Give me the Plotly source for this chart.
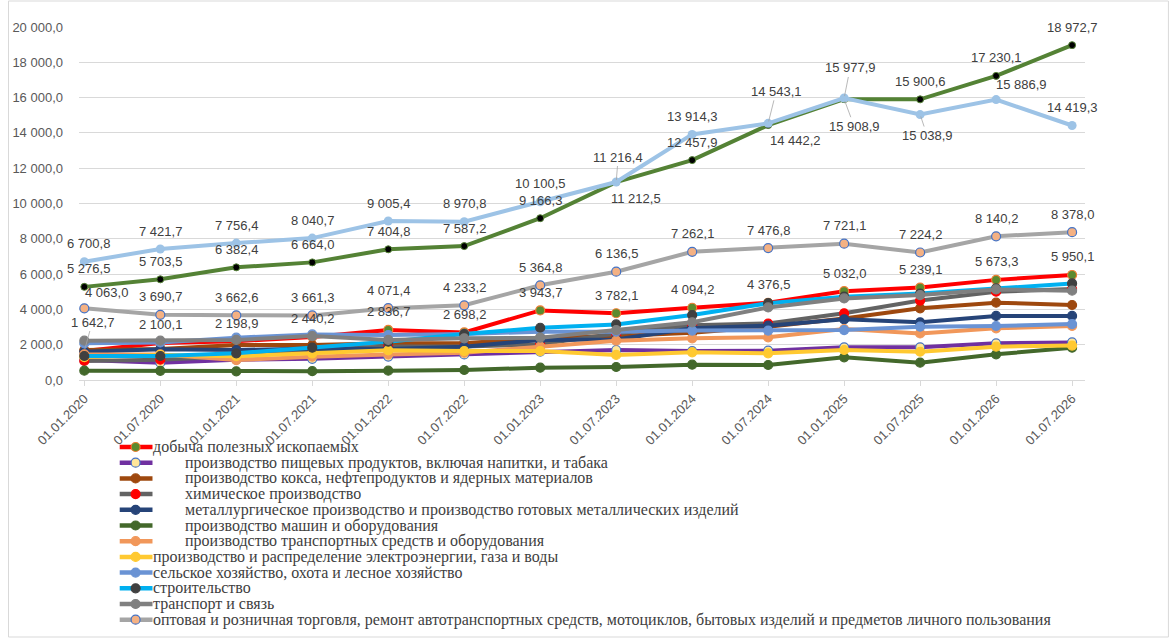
import plotly.graph_objects as go

dates = ["01.01.2020", "01.07.2020", "01.01.2021", "01.07.2021", "01.01.2022",
         "01.07.2022", "01.01.2023", "01.07.2023", "01.01.2024", "01.07.2024",
         "01.01.2025", "01.07.2025", "01.01.2026", "01.07.2026"]

mining = [1642.7, 2100.1, 2198.9, 2440.2, 2836.7, 2698.2, 3943.7, 3782.1, 4094.2, 4376.5, 5032.0, 5239.1, 5673.3, 5950.1]
food = [1130, 980, 1150, 1200, 1330, 1450, 1600, 1700, 1640, 1660, 1850, 1850, 2080, 2130]
coke = [1700, 1750, 1980, 1980, 2080, 2080, 2400, 2490, 2680, 3020, 3490, 4060, 4380, 4250]
chem = [1080, 1150, 1350, 1700, 1900, 1900, 2020, 2640, 3100, 3200, 3780, 4500, 5000, 5150]
metal = [1600, 1740, 1700, 1790, 1760, 1890, 2270, 2300, 2930, 3080, 3440, 3270, 3630, 3630]
machinery = [530, 520, 490, 500, 530, 566, 697, 736, 867, 850, 1284, 981, 1453, 1830]
vehicles = [1450, 1450, 1130, 1320, 1450, 1550, 1890, 2230, 2360, 2420, 2890, 2640, 2930, 3060]
energy = [1300, 1420, 1350, 1500, 1680, 1640, 1640, 1420, 1570, 1510, 1700, 1600, 1890, 1950]
agri = [2080, 2130, 2400, 2580, 2550, 2600, 2740, 2740, 2800, 2800, 2830, 3020, 3060, 3170]
construction = [1360, 1360, 1510, 1830, 2170, 2600, 2960, 3150, 3680, 4350, 4720, 4900, 5190, 5470]
transport = [2230, 2230, 2270, 2490, 2270, 2360, 2400, 2830, 3270, 4110, 4620, 4810, 5130, 5060]
trade = [4063.0, 3690.7, 3662.6, 3661.3, 4071.4, 4233.2, 5364.8, 6136.5, 7262.1, 7476.8, 7721.1, 7224.2, 8140.2, 8378.0]
# two series without a legend entry in the original
top_blue = [6700.8, 7421.7, 7756.4, 8040.7, 9005.4, 8970.8, 10100.5, 11216.4, 13914.3, 14543.1, 15977.9, 15038.9, 15886.9, 14419.3]
top_green = [5276.5, 5703.5, 6382.4, 6664.0, 7404.8, 7587.2, 9166.3, 11212.5, 12457.9, 14442.2, 15908.9, 15900.6, 17230.1, 18972.7]

names = [
    "добыча полезных ископаемых",
    "производство пищевых продуктов, включая напитки, и табака",
    "производство кокса, нефтепродуктов и ядерных материалов",
    "химическое производство",
    "металлургическое производство и производство готовых металлических изделий",
    "производство машин и оборудования",
    "производство транспортных средств и оборудования",
    "производство и распределение электроэнергии, газа и воды",
    "сельское хозяйство, охота и лесное хозяйство",
    "строительство",
    "транспорт и связь",
    "оптовая и розничная торговля, ремонт автотранспортных средств, мотоциклов, бытовых изделий и предметов личного пользования",
]
values = [mining, food, coke, chem, metal, machinery, vehicles, energy, agri, construction, transport, trade]

# line colour, marker fill, marker border, indented legend text
styles = [
    ("#FF0000", "#5B8A2E", "#ED7D31", False),
    ("#7030A0", "#FFE699", "#4472C4", True),
    ("#9E480E", "#9E480E", "#9E480E", True),
    ("#636363", "#FF0000", "#FF0000", True),
    ("#264478", "#264478", "#264478", True),
    ("#43682B", "#43682B", "#43682B", True),
    ("#F1975A", "#F1975A", "#F1975A", True),
    ("#FFC931", "#FFC931", "#FFC931", False),
    ("#6A93D4", "#6A93D4", "#6A93D4", False),
    ("#00B0F0", "#404040", "#404040", False),
    ("#808080", "#808080", "#808080", False),
    ("#A5A5A5", "#F4B183", "#4472C4", False),
]

L, R, T, B = 72, 86, 27, 259
W, H = 1171, 639
PW, PH = W - L - R, H - T - B


def fmt(v):
    return f"{v:,.1f}".replace(",", " ").replace(".", ",")


def px_x(px):
    return (px - L) / PW


def px_y(py):
    return (T + PH - py) / PH


fig = go.Figure()

for name, vals, (lc, mc, mb, _) in zip(names, values, styles):
    fig.add_trace(go.Scatter(
        x=dates, y=vals, name=name, mode="lines+markers",
        line=dict(color=lc, width=4),
        marker=dict(size=9, color=mc, line=dict(color=mb, width=1.2)),
        showlegend=False,
    ))

fig.add_trace(go.Scatter(
    x=dates, y=top_green, mode="lines+markers", showlegend=False,
    line=dict(color="#548235", width=4),
    marker=dict(size=7, color="#000000", line=dict(color="#548235", width=1)),
))
fig.add_trace(go.Scatter(
    x=dates, y=top_blue, mode="lines+markers", showlegend=False,
    line=dict(color="#9DC3E6", width=4),
    marker=dict(size=9, color="#9DC3E6"),
))

# data labels: default above the point, a few moved (dx, dy, leader line)
label_moves = {
    "mining": {0: (8, -29, True)},
    "trade": {0: (22, -16, False)},
    "top_blue": {0: (4, -18, False), 7: (2, -25, True), 9: (8, -32, True), 10: (6, -30, True),
                 11: (7, 21, True), 12: (25, -15, False)},
    "top_green": {0: (4, -18, False), 7: (20, 16, False), 9: (27, 15, False), 10: (10, 27, True)},
}
labelled = [("mining", mining), ("trade", trade), ("top_blue", top_blue), ("top_green", top_green)]

annotations = []
for key, vals in labelled:
    moves = label_moves.get(key, {})
    for i, v in enumerate(vals):
        dx, dy, leader = moves.get(i, (0, -18, False))
        common = dict(x=dates[i], y=v, xref="x", yref="y", text=fmt(v),
                      font=dict(family="Liberation Sans", size=13, color="#404040"))
        if leader:
            annotations.append(dict(common, showarrow=True, ax=dx, ay=dy, arrowhead=0,
                                    arrowwidth=0.8, arrowcolor="#A6A6A6", standoff=2))
        else:
            annotations.append(dict(common, showarrow=False, xshift=dx, yshift=-dy))

# legend drawn below the axis, one entry per row
shapes = []
leg_top, leg_step = 447, 15.7
for i, (name, (lc, mc, mb, indent)) in enumerate(zip(names, styles)):
    py = leg_top + i * leg_step
    shapes.append(dict(type="line", xref="paper", yref="paper",
                       x0=px_x(113), x1=px_x(146), y0=px_y(py), y1=px_y(py),
                       line=dict(color=lc, width=4.5)))
    shapes.append(dict(type="circle", xref="paper", yref="paper",
                       xsizemode="pixel", ysizemode="pixel",
                       xanchor=px_x(129), yanchor=px_y(py),
                       x0=-4.5, x1=4.5, y0=-4.5, y1=4.5,
                       fillcolor=mc, line=dict(color=mb, width=1.2)))
    annotations.append(dict(x=px_x(177 if indent else 144), y=px_y(py), xref="paper", yref="paper",
                            xanchor="left", yanchor="middle", showarrow=False, text=name,
                            font=dict(family="Liberation Serif", size=16, color="#404040")))

shapes.append(dict(type="rect", xref="paper", yref="paper", layer="below",
                   x0=px_x(1), x1=px_x(W - 2), y0=px_y(H - 2), y1=px_y(1),
                   line=dict(color="#D9D9D9", width=1)))

fig.update_layout(
    width=W, height=H,
    margin=dict(l=L, r=R, t=T, b=B),
    paper_bgcolor="white", plot_bgcolor="white",
    separators=", ",
    showlegend=False,
    font=dict(family="Liberation Sans", color="#595959"),
    annotations=annotations,
    shapes=shapes,
)
fig.update_xaxes(
    type="category", range=[-0.07, 13.17],
    showgrid=False, showline=True, linecolor="#D9D9D9", linewidth=1,
    ticks="outside", ticklen=5, tickcolor="#D9D9D9",
    tickangle=-45, tickfont=dict(size=13, color="#595959"),
)
fig.update_yaxes(
    range=[0, 20000], dtick=2000, tickformat=",.1f",
    showgrid=True, gridcolor="#D9D9D9", gridwidth=1, zeroline=False,
    tickfont=dict(size=13, color="#595959"), ticks="", showline=False,
    ticklabelstandoff=15,
)

fig.write_html("out.html", config={"displayModeBar": False},
               post_script="document.body.style.margin='0';")
